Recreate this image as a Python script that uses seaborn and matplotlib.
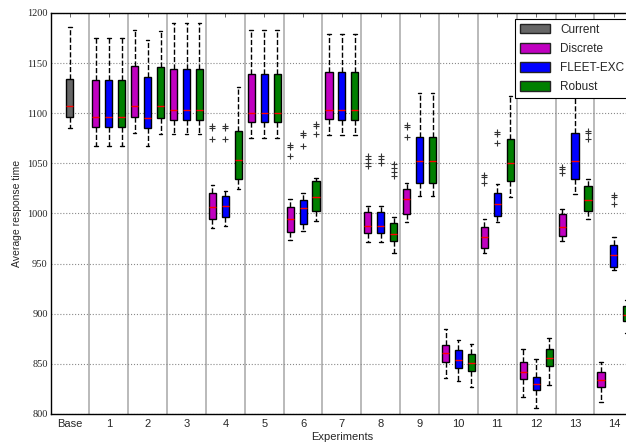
import numpy as np
import pandas as pd
import matplotlib
matplotlib.use("Agg")
import matplotlib.pyplot as plt
from matplotlib.patches import Patch
import seaborn as sns

# experiment labels
labels = ["Base"] + [str(i) for i in range(1, 15)]
methods = ["Discrete", "FLEET-EXC", "Robust"]

# box stats per box: (whisker low, q1, median, q3, whisker high)
current_box = (1085, 1096, 1107, 1134, 1186)

discrete_boxes = [
    (1067, 1086, 1096, 1133, 1175),
    (1080, 1096, 1107, 1147, 1183),
    (1079, 1093, 1103, 1144, 1190),
    (985, 994, 1006, 1020, 1028),
    (1075, 1091, 1100, 1139, 1183),
    (973, 981, 994, 1006, 1014),
    (1078, 1094, 1103, 1141, 1179),
    (971, 980, 987, 1001, 1007),
    (991, 999, 1014, 1024, 1030),
    (836, 852, 861, 869, 885),
    (961, 965, 976, 986, 994),
    (817, 835, 842, 852, 865),
    (972, 977, 986, 999, 1004),
    (812, 827, 834, 842, 852),
]
fleet_boxes = [
    (1067, 1086, 1096, 1133, 1175),
    (1067, 1085, 1095, 1136, 1173),
    (1079, 1093, 1103, 1144, 1190),
    (987, 996, 1007, 1017, 1022),
    (1075, 1091, 1100, 1139, 1183),
    (982, 989, 1005, 1013, 1020),
    (1078, 1093, 1103, 1141, 1179),
    (971, 980, 987, 1001, 1007),
    (1017, 1030, 1052, 1076, 1120),
    (833, 846, 854, 864, 874),
    (991, 997, 1009, 1020, 1029),
    (806, 824, 830, 837, 855),
    (1019, 1034, 1052, 1080, 1125),
    (944, 947, 959, 968, 976),
]
robust_boxes = [
    (1067, 1086, 1096, 1133, 1175),
    (1079, 1095, 1107, 1146, 1182),
    (1079, 1093, 1103, 1144, 1190),
    (1024, 1034, 1053, 1082, 1126),
    (1075, 1091, 1100, 1139, 1183),
    (992, 1002, 1016, 1032, 1035),
    (1078, 1093, 1103, 1141, 1179),
    (961, 972, 979, 990, 996),
    (1017, 1030, 1052, 1076, 1120),
    (827, 843, 851, 860, 870),
    (1016, 1032, 1050, 1074, 1117),
    (829, 848, 856, 865, 876),
    (994, 1002, 1013, 1027, 1034),
    (881, 893, 899, 908, 914),
]

# outliers: experiment -> values
discrete_fliers = {"4": [1087, 1085, 1074], "6": [1068, 1066, 1057],
                   "8": [1057, 1054, 1050, 1047], "9": [1088, 1086, 1076],
                   "11": [1038, 1036, 1030], "13": [1046, 1044, 1040]}
fleet_fliers = {"4": [1087, 1085, 1074], "6": [1080, 1078, 1067],
                "8": [1057, 1054, 1050], "11": [1081, 1079, 1070],
                "14": [1018, 1016, 1009]}
robust_fliers = {"6": [1089, 1087, 1079], "8": [1049, 1045, 1041, 1037],
                 "13": [1082, 1080, 1074]}

colors = {"Current": "#666666", "Discrete": "#c000c0",
          "FLEET-EXC": "#0000ff", "Robust": "#008000"}

sns.set_style("white")
plt.rcParams["font.family"] = ["Liberation Sans", "DejaVu Sans"]
plt.rcParams["xtick.direction"] = "in"
plt.rcParams["ytick.direction"] = "in"

rows = []
for m, boxes in zip(methods, [discrete_boxes, fleet_boxes, robust_boxes]):
    for lab, stats in zip(labels[1:], boxes):
        for v in stats:
            rows.append({"exp": lab, "method": m, "value": v})
df = pd.DataFrame(rows)
df_base = pd.DataFrame({"exp": "Base", "value": list(current_box)})

fig = plt.figure(figsize=(6.26, 4.46), dpi=100)
ax = fig.add_axes([0.0807, 0.072, 0.931, 0.899])

for i in range(len(labels) - 1):
    ax.axvline(i + 0.5, color="#b4b4b4", lw=1.3, zorder=0)
ax.yaxis.grid(True, linestyle=":", color="#8a8a8a", lw=0.8)
ax.set_axisbelow(True)

box_kw = dict(whis=(0, 100), showfliers=False, saturation=1, linecolor="k",
              linewidth=1,
              medianprops={"color": "red", "linewidth": 1},
              whiskerprops={"linestyle": "--", "color": "k"},
              capprops={"color": "k"})

sns.boxplot(data=df_base, x="exp", y="value", order=labels, color=colors["Current"],
            width=0.18, ax=ax, **box_kw)
sns.boxplot(data=df, x="exp", y="value", hue="method", order=labels,
            hue_order=methods, palette=colors, width=1.0, gap=0.45,
            legend=False, ax=ax, **box_kw)

offsets = {"Discrete": -1 / 3, "FLEET-EXC": 0.0, "Robust": 1 / 3}
for m, fl in zip(methods, [discrete_fliers, fleet_fliers, robust_fliers]):
    for lab, vals in fl.items():
        xs = [labels.index(lab) + offsets[m]] * len(vals)
        ax.scatter(xs, vals, marker="+", color="#333333", s=22, linewidths=0.8, zorder=3)

ax.set_xlim(-0.5, 14.5)
ax.set_ylim(800, 1200)
ax.set_yticks(np.arange(800, 1201, 50))
ax.set_xticks(range(len(labels)))
ax.set_xticklabels(labels, fontsize=8)
for t in ax.get_yticklabels():
    t.set_family(["Liberation Serif"])
    t.set_fontsize(7.5)
ax.tick_params(axis="x", top=True, length=3, width=0.6, color="#555555")
ax.tick_params(axis="y", length=3, width=0.6, color="#555555", pad=2)
ax.set_xlabel("Experiments", fontsize=8, labelpad=2)
ax.set_ylabel("Average response time", fontsize=7.5, labelpad=4)
for s in ["left", "bottom", "top"]:
    ax.spines[s].set_color("k")
    ax.spines[s].set_linewidth(1)

handles = [Patch(facecolor=colors[k], edgecolor="#222222", label=k)
           for k in ["Current", "Discrete", "FLEET-EXC", "Robust"]]
leg = ax.legend(handles=handles, loc="upper left", bbox_to_anchor=(0.797, 0.985),
                borderaxespad=0, fontsize=8.5, fancybox=False,
                framealpha=1, edgecolor="k", labelspacing=0.6,
                handlelength=2.6, handleheight=0.9)
leg.get_frame().set_linewidth(0.8)

fig.savefig("out.png", dpi=100)
